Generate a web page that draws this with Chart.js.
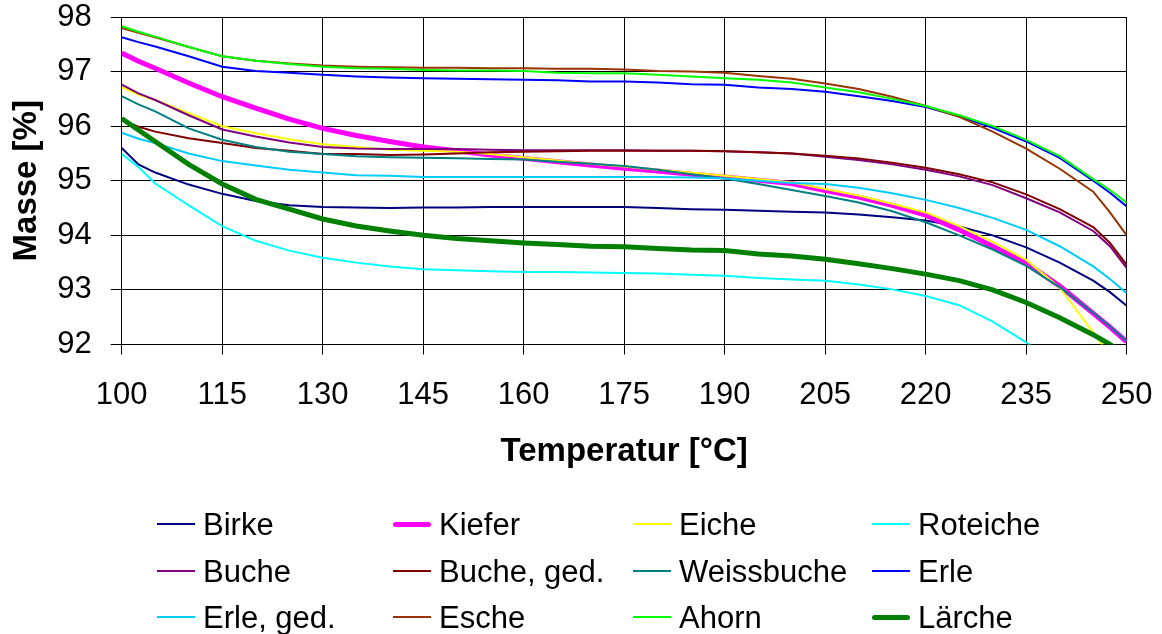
<!DOCTYPE html>
<html>
<head>
<meta charset="utf-8">
<script src="https://cdn.jsdelivr.net/npm/chart.js@4.4.1/dist/chart.umd.min.js"></script>
<style>
  html, body { margin: 0; padding: 0; background: #fff; }
  #wrap { position: relative; width: 1162px; height: 634px; overflow: hidden; }
  #chart { position: absolute; left: 0; top: 0; }
  .lg-line { position: absolute; width: 38px; }
  .lg-text { position: absolute; font-family: "Liberation Sans", Arial, sans-serif; font-size: 31px; line-height: 1; color: #000; white-space: nowrap; transform: translateY(-50%); }
</style>
</head>
<body>
<div id="wrap">
  <canvas id="chart" width="1162" height="634"></canvas>
  <div id="legend"></div>
</div>
<script>
// ---- data ----
const temps = [100, 102.5, 105, 110, 115, 120, 125, 130, 135, 140, 145, 150, 155, 160, 165, 170, 175, 180, 185, 190, 195, 200, 205, 210, 215, 220, 225, 230, 235, 240, 245, 247.5, 250];
const xTickLabels = [100, 115, 130, 145, 160, 175, 190, 205, 220, 235, 250];
const yTickLabels = [92, 93, 94, 95, 96, 97, 98];

const birke      = [95.6, 95.3, 95.15, 94.93, 94.76, 94.63, 94.55, 94.52, 94.51, 94.5, 94.51, 94.51, 94.52, 94.52, 94.52, 94.52, 94.52, 94.5, 94.48, 94.47, 94.45, 94.43, 94.42, 94.38, 94.33, 94.27, 94.16, 94.0, 93.78, 93.5, 93.17, 92.96, 92.71];
const kiefer     = [97.34, 97.19, 97.06, 96.79, 96.54, 96.33, 96.13, 95.96, 95.83, 95.72, 95.62, 95.55, 95.47, 95.41, 95.35, 95.29, 95.23, 95.18, 95.12, 95.07, 95.01, 94.95, 94.82, 94.7, 94.55, 94.37, 94.1, 93.8, 93.49, 93.07, 92.57, 92.32, 92.05];
const eiche      = [96.71, 96.58, 96.48, 96.24, 96.0, 95.87, 95.76, 95.67, 95.62, 95.57, 95.55, 95.53, 95.49, 95.43, 95.37, 95.31, 95.26, 95.2, 95.15, 95.09, 95.03, 94.97, 94.85, 94.73, 94.58, 94.42, 94.17, 93.88, 93.55, 93.04, 92.22, 91.8, 91.3];
const roteiche   = [95.49, 95.25, 94.95, 94.55, 94.17, 93.9, 93.72, 93.59, 93.5, 93.43, 93.38, 93.36, 93.34, 93.33, 93.33, 93.32, 93.31, 93.3, 93.28, 93.26, 93.22, 93.19, 93.17, 93.1, 93.01, 92.89, 92.72, 92.42, 92.04, 91.6, 91.1, 90.8, 90.5];
const buche      = [96.76, 96.6, 96.48, 96.2, 95.94, 95.81, 95.7, 95.62, 95.59, 95.58, 95.58, 95.58, 95.57, 95.56, 95.56, 95.56, 95.56, 95.55, 95.55, 95.54, 95.52, 95.5, 95.44, 95.38, 95.3, 95.2, 95.08, 94.92, 94.68, 94.42, 94.08, 93.8, 93.4];
const bucheGed   = [96.11, 95.99, 95.9, 95.78, 95.69, 95.6, 95.55, 95.49, 95.49, 95.47, 95.48, 95.5, 95.52, 95.53, 95.54, 95.55, 95.55, 95.55, 95.55, 95.54, 95.52, 95.5, 95.46, 95.41, 95.33, 95.24, 95.12, 94.97, 94.75, 94.48, 94.15, 93.86, 93.46];
const weissbuche = [96.55, 96.4, 96.27, 95.96, 95.75, 95.62, 95.53, 95.49, 95.45, 95.43, 95.42, 95.41, 95.4, 95.39, 95.35, 95.31, 95.27, 95.2, 95.12, 95.04, 94.94, 94.83, 94.72, 94.6, 94.44, 94.24, 94.0, 93.74, 93.44, 93.05, 92.58, 92.33, 92.06];
const erle       = [97.63, 97.54, 97.46, 97.28, 97.09, 97.01, 96.98, 96.94, 96.91, 96.89, 96.88, 96.87, 96.86, 96.85, 96.84, 96.82, 96.82, 96.8, 96.77, 96.76, 96.71, 96.68, 96.63, 96.55, 96.46, 96.35, 96.18, 95.97, 95.72, 95.42, 95.0, 94.78, 94.53];
const erleGed    = [95.88, 95.77, 95.69, 95.5, 95.36, 95.28, 95.2, 95.15, 95.1, 95.09, 95.07, 95.07, 95.07, 95.07, 95.07, 95.07, 95.07, 95.07, 95.06, 95.04, 95.0, 94.96, 94.94, 94.87, 94.77, 94.65, 94.5, 94.32, 94.1, 93.8, 93.43, 93.2, 92.94];
const esche      = [97.8, 97.71, 97.63, 97.45, 97.28, 97.2, 97.15, 97.11, 97.09, 97.08, 97.07, 97.07, 97.06, 97.06, 97.05, 97.05, 97.04, 97.01, 97.0, 96.98, 96.92, 96.87, 96.78, 96.68, 96.54, 96.37, 96.17, 95.9, 95.59, 95.22, 94.8, 94.42, 94.0];
const ahorn      = [97.83, 97.73, 97.64, 97.45, 97.28, 97.2, 97.14, 97.09, 97.06, 97.05, 97.03, 97.02, 97.02, 97.01, 96.98, 96.97, 96.97, 96.94, 96.91, 96.88, 96.85, 96.8, 96.71, 96.62, 96.5, 96.37, 96.2, 96.0, 95.75, 95.45, 95.03, 94.83, 94.6];
const laerche    = [96.14, 95.93, 95.72, 95.3, 94.94, 94.66, 94.48, 94.3, 94.17, 94.08, 94.0, 93.94, 93.9, 93.86, 93.83, 93.8, 93.79, 93.76, 93.73, 93.72, 93.66, 93.62, 93.56, 93.48, 93.39, 93.29, 93.17, 93.0, 92.77, 92.49, 92.18, 92.0, 91.8];

const seriesNames  = ["Birke", "Kiefer", "Eiche", "Roteiche", "Buche", "Buche, ged.", "Weissbuche", "Erle", "Erle, ged.", "Esche", "Ahorn", "Lärche"];
const seriesValues = [birke, kiefer, eiche, roteiche, buche, bucheGed, weissbuche, erle, erleGed, esche, ahorn, laerche];

// ---- styles ----
const seriesColors = ["#000080", "#FF00FF", "#FFFF00", "#00FFFF", "#800080", "#800000", "#008080", "#0000FF", "#00CCFF", "#993300", "#00FF00", "#008000"];
const seriesWidths = [2, 5, 2, 2, 2, 2, 2, 2, 2, 2, 2, 5];

const FONT = "'Liberation Sans', Arial, sans-serif";

const datasets = seriesNames.map((name, i) => ({
  label: name,
  data: temps.map((t, k) => ({ x: t, y: seriesValues[i][k] })),
  borderColor: seriesColors[i],
  backgroundColor: seriesColors[i],
  borderWidth: seriesWidths[i],
  pointRadius: 0,
  tension: 0,
  fill: false,
  order: -i
}));

new Chart(document.getElementById('chart'), {
  type: 'line',
  data: { datasets },
  options: {
    responsive: false,
    animation: false,
    layout: { padding: { left: 0, top: 17, right: 35.3, bottom: 159.5 } },
    plugins: { legend: { display: false }, tooltip: { enabled: false } },
    scales: {
      x: {
        type: 'linear',
        min: 100, max: 250,
        afterBuildTicks: (s) => { s.ticks = xTickLabels.map(v => ({ value: v })); },
        afterFit: (s) => { s.height = 130; s.paddingLeft = 0; s.paddingRight = 0; },
        ticks: { color: '#000', font: { family: FONT, size: 31, lineHeight: 1 }, padding: 25, maxRotation: 0, autoSkip: false },
        grid: { color: '#000', lineWidth: 1, tickLength: 10, drawTicks: true },
        border: { color: '#000', width: 1 },
        title: { display: true, text: 'Temperatur [°C]', color: '#000', font: { family: FONT, size: 33, weight: 'bold', lineHeight: 1.2 }, padding: { top: 0, bottom: 2.5 } }
      },
      y: {
        type: 'linear',
        min: 92, max: 98,
        afterBuildTicks: (s) => { s.ticks = yTickLabels.map(v => ({ value: v })); },
        afterFit: (s) => { s.width = 121.7; s.paddingTop = 0; s.paddingBottom = 0; },
        ticks: { color: '#000', font: { family: FONT, size: 31, lineHeight: 1 }, padding: 19 },
        grid: { color: '#000', lineWidth: 1, tickLength: 11, drawTicks: true },
        border: { color: '#000', width: 1 },
        title: { display: true, text: 'Masse [%]', color: '#000', font: { family: FONT, size: 33, weight: 'bold', lineHeight: 1.2 }, padding: { top: 7, bottom: 0 } }
      }
    }
  }
});

// ---- HTML legend (grid of 4 columns x 3 rows) ----
const colX = [157, 393, 633, 872];
const rowY = [524, 571, 617];
const legend = document.getElementById('legend');
seriesNames.forEach((name, i) => {
  const c = i % 4, r = Math.floor(i / 4);
  const line = document.createElement('div');
  line.className = 'lg-line';
  line.style.left = colX[c] + 'px';
  line.style.top = (rowY[r] - seriesWidths[i] / 2) + 'px';
  line.style.height = seriesWidths[i] + 'px';
  line.style.background = seriesColors[i];
  if (seriesWidths[i] > 3) line.style.borderRadius = '3px';
  legend.appendChild(line);
  const t = document.createElement('div');
  t.className = 'lg-text';
  t.style.left = (colX[c] + 46) + 'px';
  t.style.top = rowY[r] + 'px';
  t.textContent = name;
  legend.appendChild(t);
});
</script>
</body>
</html>
